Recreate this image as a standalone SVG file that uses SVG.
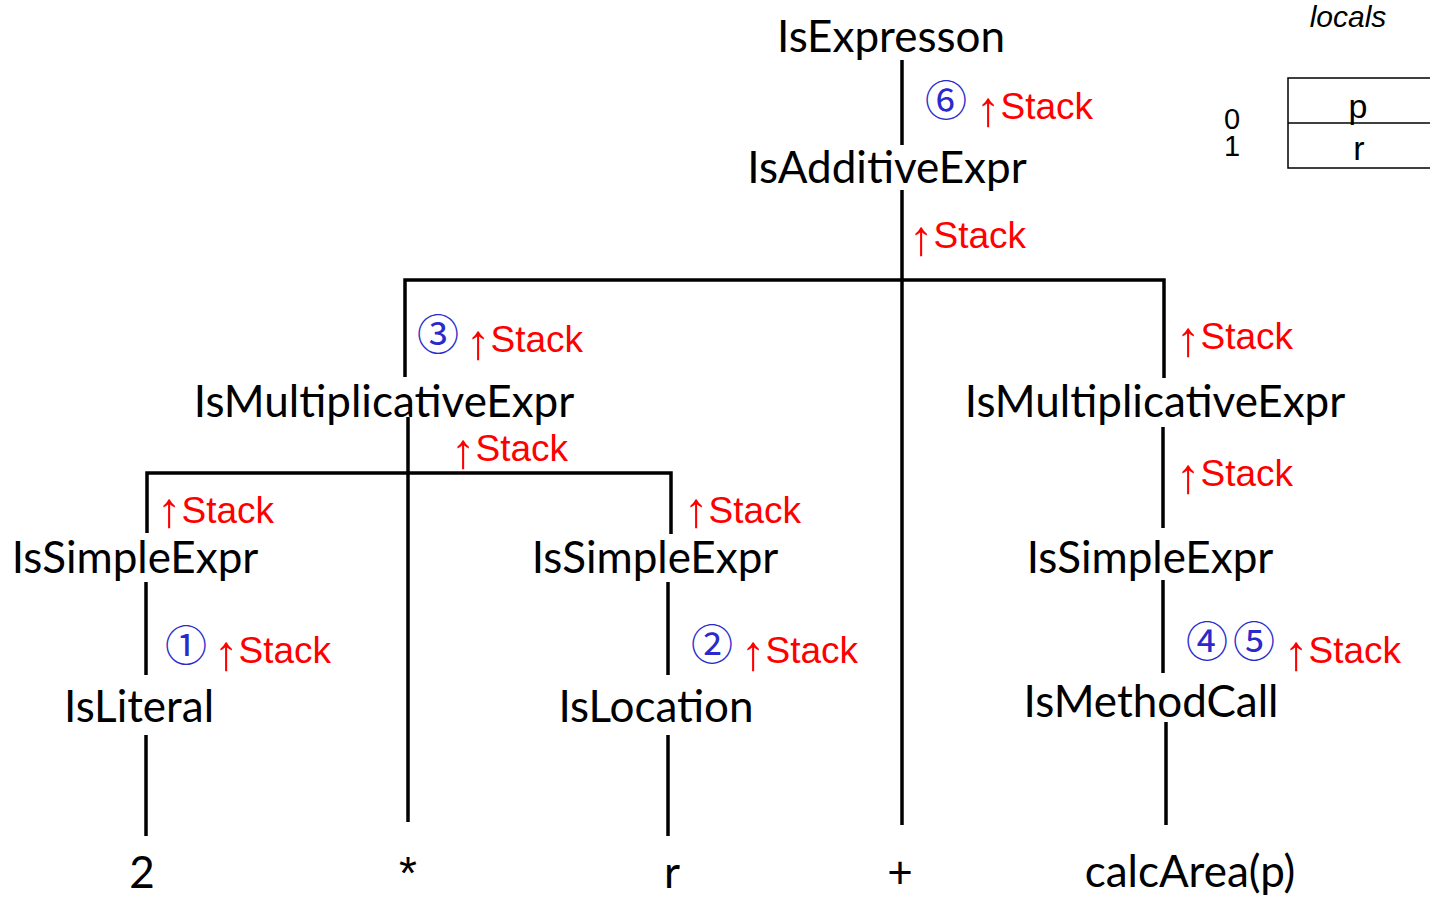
<svg xmlns="http://www.w3.org/2000/svg" width="1430" height="900" viewBox="0 0 1430 900">
<style>
.n{font-family:Lato,"Open Sans","Liberation Sans",sans-serif;font-size:44px;fill:#000;text-anchor:middle}
.s{font-family:"Liberation Sans",Arial,sans-serif;font-size:37px;fill:#ff0000}
.a{font-size:49px}
.c{font-family:"Noto Sans CJK JP","Noto Sans CJK SC",sans-serif;font-size:42px;fill:#2a2acc;text-anchor:middle}
.l{font-family:"Liberation Sans",Arial,sans-serif;font-size:34px;fill:#000;text-anchor:middle}
.d{font-family:"Liberation Sans",Arial,sans-serif;font-size:29px;fill:#000;text-anchor:middle}
.e{stroke:#000;stroke-width:3.5;fill:none}
</style>
<rect width="1430" height="900" fill="#fff"/>
<g id="connectors" class="e">
<line x1="902" y1="60" x2="902" y2="145"/>
<line x1="902" y1="190" x2="902" y2="825"/>
<polyline points="405,377 405,280 1164,280 1164,378"/>
<line x1="408" y1="417" x2="408" y2="822"/>
<polyline points="147,533 147,473 671,473 671,534"/>
<line x1="146" y1="582" x2="146" y2="675"/>
<line x1="146" y1="735" x2="146" y2="836"/>
<line x1="668" y1="582" x2="668" y2="675"/>
<line x1="668" y1="735" x2="668" y2="836"/>
<line x1="1163" y1="427" x2="1163" y2="528"/>
<line x1="1163" y1="580" x2="1163" y2="673"/>
<line x1="1166" y1="722" x2="1166" y2="825"/>
</g>
<g id="n-expression"><text class="n" x="891" y="52">IsExpresson</text></g>
<g id="n-additive"><text class="n" x="887" y="183">IsAdditiveExpr</text></g>
<g id="n-mult-left"><text class="n" x="384" y="417">IsMultiplicativeExpr</text></g>
<g id="n-mult-right"><text class="n" x="1155" y="417">IsMultiplicativeExpr</text></g>
<g id="n-simple-left"><text class="n" x="135" y="573">IsSimpleExpr</text></g>
<g id="n-simple-mid"><text class="n" x="655" y="573">IsSimpleExpr</text></g>
<g id="n-simple-right"><text class="n" x="1150" y="573">IsSimpleExpr</text></g>
<g id="n-literal"><text class="n" x="139" y="722">IsLiteral</text></g>
<g id="n-location"><text class="n" x="656" y="722">IsLocation</text></g>
<g id="n-methodcall"><text class="n" x="1151" y="717">IsMethodCall</text></g>
<g id="t-2"><text class="n" x="142" y="888">2</text></g>
<g id="t-star"><text class="n" x="408" y="889" style="font-family:'Liberation Sans',Arial,sans-serif;font-size:46px">*</text></g>
<g id="t-r"><text class="n" x="672" y="888">r</text></g>
<g id="t-plus"><text class="n" x="900" y="888">+</text></g>
<g id="t-calc"><text class="n" x="1190" y="887">calcArea(p)</text></g>
<g id="stack-labels">
<text class="s" x="976" y="119"><tspan class="a" dy="7">↑</tspan><tspan dy="-7">Stack</tspan></text>
<text class="s" x="909" y="248"><tspan class="a" dy="7">↑</tspan><tspan dy="-7">Stack</tspan></text>
<text class="s" x="466" y="352"><tspan class="a" dy="7">↑</tspan><tspan dy="-7">Stack</tspan></text>
<text class="s" x="451" y="461"><tspan class="a" dy="7">↑</tspan><tspan dy="-7">Stack</tspan></text>
<text class="s" x="1176" y="349"><tspan class="a" dy="7">↑</tspan><tspan dy="-7">Stack</tspan></text>
<text class="s" x="157" y="523"><tspan class="a" dy="4">↑</tspan><tspan dy="-4">Stack</tspan></text>
<text class="s" x="684" y="523"><tspan class="a" dy="4">↑</tspan><tspan dy="-4">Stack</tspan></text>
<text class="s" x="1176" y="486"><tspan class="a" dy="7">↑</tspan><tspan dy="-7">Stack</tspan></text>
<text class="s" x="214" y="663"><tspan class="a" dy="7">↑</tspan><tspan dy="-7">Stack</tspan></text>
<text class="s" x="741" y="663"><tspan class="a" dy="7">↑</tspan><tspan dy="-7">Stack</tspan></text>
<text class="s" x="1284" y="663"><tspan class="a" dy="7">↑</tspan><tspan dy="-7">Stack</tspan></text>
</g>
<g id="steps">
<text class="c" x="946" y="116">⑥</text>
<text class="c" x="438" y="350">③</text>
<text class="c" x="186" y="661">①</text>
<text class="c" x="712" y="660">②</text>
<text class="c" x="1207" y="657">④</text>
<text class="c" x="1254" y="657">⑤</text>
</g>
<g id="locals">
<text class="l" x="1348" y="27" font-style="italic" style="font-size:30px">locals</text>
<rect x="1288" y="78" width="160" height="90" fill="none" stroke="#000" stroke-width="1.5"/>
<line x1="1288" y1="123" x2="1430" y2="123" stroke="#000" stroke-width="1.5"/>
<text class="l" x="1358" y="118">p</text>
<text class="l" x="1359" y="160">r</text>
<text class="d" x="1232" y="129">0</text>
<text class="d" x="1232" y="156">1</text>
</g>
</svg>
